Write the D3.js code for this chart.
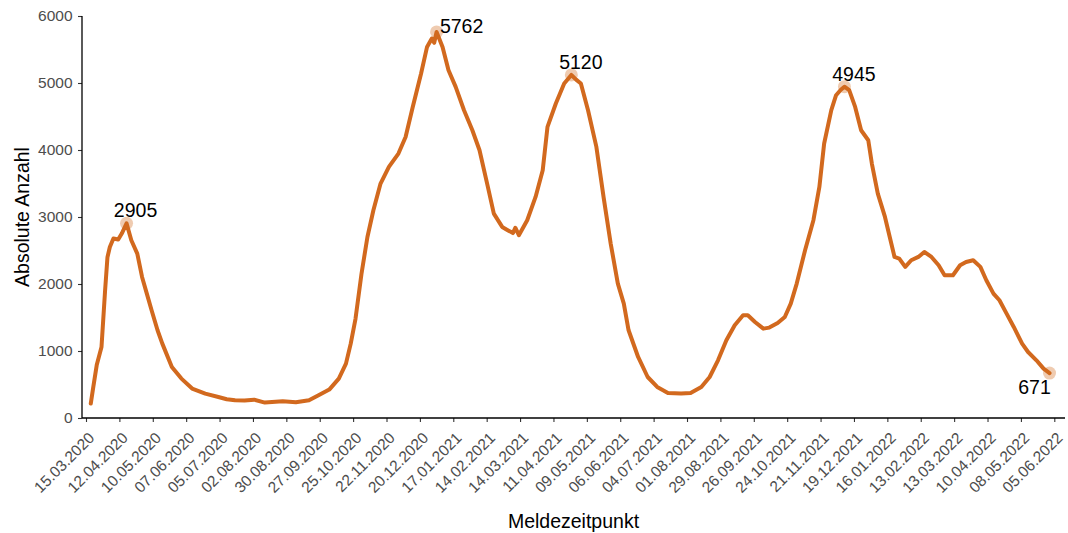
<!DOCTYPE html>
<html>
<head>
<meta charset="utf-8">
<script src="https://cdn.jsdelivr.net/npm/d3@7"></script>
<style>
  body { margin: 0; background: #fff; }
  text { font-family: "Liberation Sans", Arial, sans-serif; }
</style>
</head>
<body>
<div id="chart"></div>
<script>
// ---------------------------------------------------------
// DATA
// ---------------------------------------------------------

var dates = [
  "19.03.2020", "21.03.2020", "24.03.2020", "28.03.2020", "31.03.2020", "02.04.2020",
  "04.04.2020", "07.04.2020", "11.04.2020", "14.04.2020", "18.04.2020", "22.04.2020",
  "27.04.2020", "01.05.2020", "05.05.2020", "09.05.2020", "14.05.2020", "18.05.2020",
  "26.05.2020", "03.06.2020", "12.06.2020", "23.06.2020", "04.07.2020", "11.07.2020",
  "18.07.2020", "26.07.2020", "03.08.2020", "12.08.2020", "27.08.2020", "07.09.2020",
  "18.09.2020", "26.09.2020", "05.10.2020", "13.10.2020", "19.10.2020", "23.10.2020",
  "27.10.2020", "01.11.2020", "06.11.2020", "11.11.2020", "17.11.2020", "24.11.2020",
  "02.12.2020", "08.12.2020", "14.12.2020", "21.12.2020", "26.12.2020", "30.12.2020",
  "01.01.2021", "03.01.2021", "08.01.2021", "13.01.2021", "19.01.2021", "26.01.2021",
  "02.02.2021", "08.02.2021", "15.02.2021", "20.02.2021", "27.02.2021", "04.03.2021",
  "08.03.2021", "10.03.2021", "13.03.2021", "20.03.2021", "27.03.2021", "02.04.2021",
  "06.04.2021", "13.04.2021", "20.04.2021", "26.04.2021", "30.04.2021", "04.05.2021",
  "10.05.2021", "17.05.2021", "23.05.2021", "29.05.2021", "04.06.2021", "09.06.2021",
  "13.06.2021", "21.06.2021", "29.06.2021", "07.07.2021", "16.07.2021", "27.07.2021",
  "04.08.2021", "13.08.2021", "20.08.2021", "27.08.2021", "03.09.2021", "10.09.2021",
  "17.09.2021", "21.09.2021", "27.09.2021", "04.10.2021", "09.10.2021", "16.10.2021",
  "22.10.2021", "27.10.2021", "01.11.2021", "08.11.2021", "15.11.2021", "20.11.2021",
  "24.11.2021", "30.11.2021", "04.12.2021", "08.12.2021", "11.12.2021", "15.12.2021",
  "20.12.2021", "25.12.2021", "31.12.2021", "03.01.2022", "08.01.2022", "14.01.2022",
  "18.01.2022", "22.01.2022", "26.01.2022", "31.01.2022", "05.02.2022", "11.02.2022",
  "16.02.2022", "22.02.2022", "28.02.2022", "05.03.2022", "12.03.2022", "18.03.2022",
  "23.03.2022", "29.03.2022", "04.04.2022", "09.04.2022", "15.04.2022", "20.04.2022",
  "26.04.2022", "02.05.2022", "09.05.2022", "14.05.2022", "21.05.2022", "27.05.2022",
  "01.06.2022"
];

var counts = [
  215, 450, 790, 1060, 1900, 2400,
  2553, 2678, 2663, 2753, 2905, 2653,
  2454, 2105, 1857, 1608, 1309, 1110,
  761, 588, 439, 364, 314, 280,
  264, 260, 274, 230, 250, 235,
  264, 339, 424, 588, 812, 1110,
  1480, 2150, 2702, 3101, 3499, 3748,
  3947, 4195, 4643, 5142, 5539, 5664,
  5600, 5762, 5539, 5191, 4942, 4594,
  4295, 3997, 3449, 3051, 2852, 2800,
  2760, 2840, 2728, 2952, 3300, 3698,
  4345, 4694, 4992, 5120, 5050, 4992,
  4594, 4046, 3300, 2603, 2006, 1708,
  1309, 911, 612, 463, 373, 364,
  373, 463, 612, 861, 1160, 1384,
  1533, 1533, 1433, 1334, 1349, 1418,
  1508, 1708, 2006, 2504, 2952, 3449,
  4097, 4594, 4818, 4900, 4945, 4893,
  4643, 4295, 4146, 3798, 3350, 3001,
  2702, 2404, 2380, 2255, 2355, 2404,
  2478, 2404, 2280, 2131, 2131, 2280,
  2329, 2355, 2255, 2056, 1857, 1757,
  1558, 1359, 1110, 985, 861, 737,
  671
];

// highlighted points
var peakDates = ["18.04.2020", "03.01.2021", "26.04.2021", "11.12.2021", "01.06.2022"];
var peakValues = [2905, 5762, 5120, 4945, 671];

// x axis ticks: every 4 weeks
var tickDates = [
  "15.03.2020", "12.04.2020", "10.05.2020", "07.06.2020", "05.07.2020", "02.08.2020",
  "30.08.2020", "27.09.2020", "25.10.2020", "22.11.2020", "20.12.2020", "17.01.2021",
  "14.02.2021", "14.03.2021", "11.04.2021", "09.05.2021", "06.06.2021", "04.07.2021",
  "01.08.2021", "29.08.2021", "26.09.2021", "24.10.2021", "21.11.2021", "19.12.2021",
  "16.01.2022", "13.02.2022", "13.03.2022", "10.04.2022", "08.05.2022", "05.06.2022"
];
var yTicks = [0, 1000, 2000, 3000, 4000, 5000, 6000];

// ---------------------------------------------------------
// SET UP
// ---------------------------------------------------------

var svgWidth = 1068;
var svgHeight = 533;
var margin = { top: 16, right: 3, bottom: 115, left: 82 };
var width = svgWidth - margin.left - margin.right;
var height = svgHeight - margin.top - margin.bottom;

var lineColor = "#D2691E";
var parseDate = d3.utcParse("%d.%m.%Y");

var svg = d3.select("#chart")
  .append("svg")
  .attr("width", svgWidth)
  .attr("height", svgHeight);

var chartGroup = svg.append("g")
  .attr("transform", `translate(${margin.left}, ${margin.top})`);

var data = dates.map((d, i) => ({ date: parseDate(d), value: counts[i] }));
var peaks = peakDates.map((d, i) => ({ date: parseDate(d), value: peakValues[i] }));

// first and last tick sit a little inside the axis line
var xScale = d3.scaleUtc()
  .domain([parseDate(tickDates[0]), parseDate(tickDates[tickDates.length - 1])])
  .range([4, 972.3]);

var yScale = d3.scaleLinear()
  .domain([0, 6000])
  .range([height, 0]);

// ---------------------------------------------------------
// AXES
// ---------------------------------------------------------

var bottomAxis = d3.axisBottom(xScale)
  .tickValues(tickDates.map(parseDate))
  .tickFormat(d3.utcFormat("%d.%m.%Y"))
  .tickSize(4)
  .tickSizeOuter(0);

var xAxis = chartGroup.append("g")
  .attr("transform", `translate(0, ${height})`)
  .call(bottomAxis);

xAxis.select(".domain").remove();
xAxis.selectAll(".tick line").attr("stroke", "#333").attr("stroke-width", 1.1);
xAxis.selectAll(".tick text")
  .attr("x", 0)
  .attr("y", 0)
  .attr("dy", "0.72em")
  .attr("transform", "translate(1, 13) rotate(-45)")
  .style("text-anchor", "end")
  .attr("fill", "#4d4d4d")
  .attr("font-size", "15.5px");

var leftAxis = d3.axisLeft(yScale)
  .tickValues(yTicks)
  .tickFormat(d3.format("d"))
  .tickSize(4)
  .tickPadding(5.5)
  .tickSizeOuter(0);

var yAxis = chartGroup.append("g").call(leftAxis);
yAxis.select(".domain").remove();
yAxis.selectAll(".tick line").attr("stroke", "#333").attr("stroke-width", 1.1);
yAxis.selectAll(".tick text")
  .attr("fill", "#4d4d4d")
  .attr("font-size", "15.5px");

// axis lines
chartGroup.append("line")
  .attr("x1", 0).attr("x2", width)
  .attr("y1", height).attr("y2", height)
  .attr("stroke", "#000").attr("stroke-width", 1.3);

chartGroup.append("line")
  .attr("x1", 0).attr("x2", 0)
  .attr("y1", 0).attr("y2", height)
  .attr("stroke", "#000").attr("stroke-width", 1.3);

// ---------------------------------------------------------
// LINE + HIGHLIGHTS
// ---------------------------------------------------------

var line = d3.line()
  .x(d => xScale(d.date))
  .y(d => yScale(d.value));

chartGroup.append("path")
  .datum(data)
  .attr("d", line)
  .attr("fill", "none")
  .attr("stroke", lineColor)
  .attr("stroke-width", 4)
  .attr("stroke-linejoin", "round")
  .attr("stroke-linecap", "round");

chartGroup.selectAll(".peak")
  .data(peaks)
  .enter()
  .append("circle")
  .attr("class", "peak")
  .attr("cx", d => xScale(d.date))
  .attr("cy", d => yScale(d.value))
  .attr("r", 6.5)
  .attr("fill", lineColor)
  .attr("fill-opacity", 0.35);

// label nudges (text centre offset from the point)
var nudges = [[9, -6], [25, 1.5], [9.5, -5.5], [9.5, -6], [-15, 21]];

chartGroup.selectAll(".peak-label")
  .data(peaks)
  .enter()
  .append("text")
  .attr("class", "peak-label")
  .attr("x", (d, i) => xScale(d.date) + nudges[i][0])
  .attr("y", (d, i) => yScale(d.value) + nudges[i][1])
  .attr("text-anchor", "middle")
  .attr("font-size", "19.5px")
  .attr("fill", "#000")
  .text(d => d.value);

// ---------------------------------------------------------
// AXIS TITLES
// ---------------------------------------------------------

svg.append("text")
  .attr("transform", `translate(29, ${margin.top + height / 2}) rotate(-90)`)
  .attr("text-anchor", "middle")
  .attr("font-size", "19.5px")
  .attr("fill", "#000")
  .text("Absolute Anzahl");

svg.append("text")
  .attr("x", margin.left + width / 2)
  .attr("y", 528)
  .attr("text-anchor", "middle")
  .attr("font-size", "19.5px")
  .attr("fill", "#000")
  .text("Meldezeitpunkt");
</script>
</body>
</html>
